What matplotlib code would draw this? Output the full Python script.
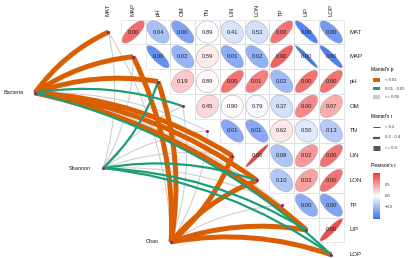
import matplotlib
matplotlib.use("Agg")
import matplotlib.pyplot as plt
from matplotlib.patches import Ellipse, Rectangle, FancyArrowPatch
from matplotlib.colors import LinearSegmentedColormap, Normalize
import numpy as np

plt.rcParams["font.family"] = ["Liberation Sans", "DejaVu Sans"]

# environmental variables (diagonal of the matrix)
env = ["MAT", "MAP", "pH", "OM", "TN", "LIN", "LON", "TP", "LIP", "LOP"]

# Pearson's r, upper triangle, row by row (row i -> columns i+1 .. 9)
pearson_r = [
    [0.75, -0.45, -0.65, -0.02, -0.20, -0.22, 0.72, -0.88, -0.72],
    [-0.80, -0.53, 0.10, -0.60, -0.55, 0.80, -0.97, -0.92],
    [0.28, 0.02, 0.72, 0.65, -0.50, 0.72, 0.72],
    [0.20, 0.02, -0.04, -0.22, 0.60, 0.42],
    [-0.62, -0.62, 0.12, -0.15, -0.38],
    [0.97, -0.42, 0.52, 0.72],
    [-0.40, 0.48, 0.72],
    [-0.60, -0.65],
    [0.92],
]

# p values printed in the cells
pearson_p = [
    ["0.00", "0.04", "0.00", "0.89", "0.41", "0.53", "0.00", "0.00", "0.00"],
    ["0.00", "0.02", "0.59", "0.01", "0.02", "0.00", "0.00", "0.00"],
    ["0.19", "0.89", "0.00", "0.01", "0.02", "0.00", "0.00"],
    ["0.45", "0.90", "0.79", "0.37", "0.00", "0.07"],
    ["0.01", "0.01", "0.62", "0.50", "0.13"],
    ["0.00", "0.08", "0.02", "0.00"],
    ["0.10", "0.03", "0.00"],
    ["0.00", "0.00"],
    ["0.00"],
]

# Mantel test links: p class (a <0.01, b 0.01-0.05, c >=0.05), r class (1 <0.2, 2 0.2-0.4, 3 >=0.4)
spec = ["Bacteria", "Shannon", "Chao"]
mantel_p = {
    "Bacteria": ["a", "a", "a", "b", "c", "a", "a", "c", "a", "b"],
    "Shannon":  ["c", "c", "b", "c", "c", "c", "b", "c", "b", "b"],
    "Chao":     ["c", "a", "a", "c", "c", "a", "a", "c", "a", "a"],
}
mantel_r = {
    "Bacteria": [3, 3, 3, 2, 1, 3, 3, 1, 3, 2],
    "Shannon":  [1, 1, 2, 1, 1, 1, 2, 1, 2, 2],
    "Chao":     [1, 3, 3, 1, 1, 3, 3, 1, 3, 3],
}

p_labels = ["< 0.01", "0.01 - 0.05", ">= 0.05"]
r_labels = ["< 0.2", "0.2 - 0.4", ">= 0.4"]
cbar_ticks = [0.5, 0.0, -0.5]

# styles
p_colors = {"a": "#D95F02", "b": "#1B9E77", "c": "#CCCCCC"}
r_widths = {1: 0.75, 2: 1.6, 3: 3.6}
node_color = "#8E1F7E"
cmap = LinearSegmentedColormap.from_list("rb", ["#3D74F0", "#FFFFFF", "#F03C3C"])
norm = Normalize(-1, 1)

# layout in cell units (one cell ~ 24.75 px)
CELL = 24.75
X0, Y0 = 108.5, 32.0
W, H = 410, 258
spec_pos = {"Bacteria": (-2.97, 2.46), "Shannon": (-0.22, 5.5), "Chao": (2.53, 8.48)}


def px(x, y):
    return ((x - X0) / CELL, (y - Y0) / CELL)


fig = plt.figure(figsize=(W / 100, H / 100), dpi=100)
ax = fig.add_axes([0, 0, 1, 1])
ax.set_xlim(-X0 / CELL, (W - X0) / CELL)
ax.set_ylim((H - Y0) / CELL, -Y0 / CELL)
ax.set_aspect("equal")
ax.axis("off")

# correlation cells
for i, row in enumerate(pearson_r):
    for k, r in enumerate(row):
        j = i + 1 + k
        ax.add_patch(Rectangle((j - 0.5, i - 0.5), 1, 1, fill=False,
                               edgecolor="#DDDDDD", lw=0.5, zorder=1))
        s = 0.45
        e = Ellipse((j, i), 2 * s * np.sqrt(1 + abs(r)), 2 * s * np.sqrt(1 - abs(r)),
                    angle=(-45 if r > 0 else 45), facecolor=cmap(norm(r)),
                    edgecolor="#9A9A9A", lw=0.3, zorder=2)
        ax.add_patch(e)
        ax.text(j, i, pearson_p[i][k], ha="center", va="center",
                fontsize=4.2, color="#222222", zorder=3)

# axis labels
for j, name in enumerate(env):
    ax.text(j, px(0, 16)[1], name, rotation=90, ha="center", va="bottom",
            fontsize=4.3, color="#222222")
    ax.text(px(350, 0)[0], j, name, ha="left", va="center",
            fontsize=4.3, color="#222222")


def link(p0, p1, color, lw, z):
    # curves bend towards the upper right, like nice_curvature()
    dxd = p1[0] - p0[0]
    dyd = -(p1[1] - p0[1])
    s = np.sign(dyd - dxd)
    if s == 0:
        s = 1
    patch = FancyArrowPatch(p0, p1, connectionstyle="arc3,rad=%.3f" % (0.13 * s),
                            arrowstyle="-", lw=lw, color=color, shrinkA=0,
                            shrinkB=0, capstyle="butt", zorder=z)
    ax.add_patch(patch)


# mantel links
for sp in spec:
    for j, name in enumerate(env):
        pc = mantel_p[sp][j]
        z = {"c": 4, "b": 5, "a": 4.5}[pc]
        link(spec_pos[sp], (j, j), p_colors[pc], r_widths[mantel_r[sp][j]], z)

# nodes
ax.plot(range(len(env)), range(len(env)), "o", ms=2.2, color=node_color, mec="none", zorder=7)
for sp in spec:
    x, y = spec_pos[sp]
    ax.plot([x], [y], "o", ms=2.2, color=node_color, mec="none", zorder=7)
    ax.text(x - 0.48, y, sp, ha="right", va="center", fontsize=4.0, color="#222222")

# legend: Mantel's p
lx = px(371, 0)[0]
ax.text(lx, px(0, 70)[1], "Mantel's p", ha="left", va="center", fontsize=3.5)
for k, key in enumerate(["a", "b", "c"]):
    y = px(0, 80 + 8.5 * k)[1]
    ax.add_patch(Rectangle((px(373, 0)[0], y - 0.08), 0.3, 0.16, color=p_colors[key], lw=0))
    ax.text(px(385, 0)[0], y, p_labels[k], ha="left", va="center", fontsize=3.1, color="#333333")

# legend: Mantel's r
ax.text(lx, px(0, 117)[1], "Mantel's r", ha="left", va="center", fontsize=3.5)
for k, key in enumerate([1, 2, 3]):
    y = px(0, 127 + 10.5 * k)[1]
    ax.plot([px(373, 0)[0], px(380, 0)[0]], [y, y], color="#555555",
            lw=r_widths[key], solid_capstyle="butt")
    ax.text(px(385, 0)[0], y, r_labels[k], ha="left", va="center", fontsize=3.1, color="#333333")

# legend: Pearson's r colorbar
ax.text(lx, px(0, 166)[1], "Pearson's r", ha="left", va="center", fontsize=3.5)
cax = fig.add_axes([373 / W, 1 - 219 / H, 7 / W, 46 / H])
grad = np.linspace(-1, 1, 200).reshape(-1, 1)
cax.imshow(grad, cmap=cmap, norm=norm, aspect="auto", origin="lower", extent=[0, 1, -1, 1])
cax.set_xticks([])
cax.set_yticks([])
for sp_ in cax.spines.values():
    sp_.set_visible(False)
for v in cbar_ticks:
    yy = px(0, 196 - 22.5 * v)[1]
    ax.text(px(385, 0)[0], yy, ("%.1f" % v).replace("-", "\u2212"), ha="left", va="center",
            fontsize=3.1, color="#333333")

fig.savefig("out.png", dpi=100)
